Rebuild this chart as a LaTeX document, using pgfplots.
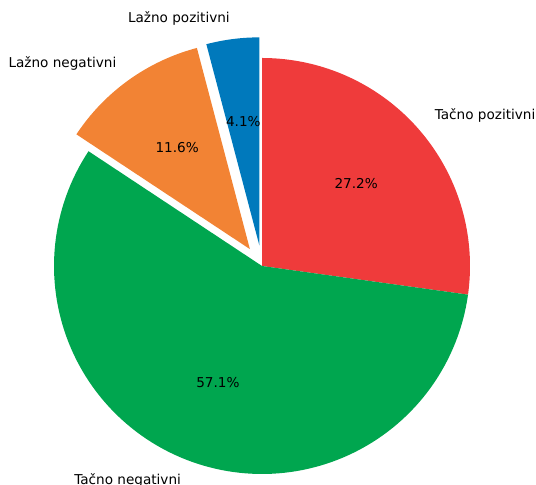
\documentclass[border=0pt]{standalone}
\usepackage{fontspec}
\setmainfont{DejaVu Sans}
\usepackage{pgfplots}
\pgfplotsset{compat=1.18}
\definecolor{cRed}{HTML}{EF3B3B}
\definecolor{cGreen}{HTML}{00A64F}
\definecolor{cOrange}{HTML}{F28334}
\definecolor{cBlue}{HTML}{0079BC}
% shares (percent), clockwise from 90 degrees
\def\pA{27.2}\def\pB{57.1}\def\pC{11.6}\def\pD{4.1}
\begin{document}
\begin{tikzpicture}[font=\fontsize{13.6pt}{16pt}\selectfont]
\pgfmathsetmacro\aA{90}
\pgfmathsetmacro\aB{\aA-3.6*\pA}
\pgfmathsetmacro\aC{\aB-3.6*\pB}
\pgfmathsetmacro\aD{\aC-3.6*\pC}
\pgfmathsetmacro\aE{\aD-3.6*\pD}
% explode offsets
\pgfmathsetmacro\mC{(\aC+\aD)/2}
\pgfmathsetmacro\mD{(\aD+\aE)/2}
\pgfmathsetmacro\cCx{0.1*cos(\mC)}\pgfmathsetmacro\cCy{0.1*sin(\mC)}
\pgfmathsetmacro\cDx{0.1*cos(\mD)}\pgfmathsetmacro\cDy{0.1*sin(\mD)}
\pgfmathsetmacro\mA{(\aA+\aB)/2}
\pgfmathsetmacro\mB{(\aB+\aC)/2}
\begin{axis}[hide axis, x=208pt, y=208pt, scale only axis,
  xmin=-1.2596, xmax=1.3173, ymin=-1.0529, ymax=1.2788, clip=false]
\addplot[fill=cRed, draw=none, domain=\aB:\aA, samples=80, variable=\t]
  ({cos(\t)},{sin(\t)}) -- (axis cs:0,0) -- cycle;
\addplot[fill=cGreen, draw=none, domain=\aC:\aB, samples=120, variable=\t]
  ({cos(\t)},{sin(\t)}) -- (axis cs:0,0) -- cycle;
\addplot[fill=cOrange, draw=none, domain=\aD:\aC, samples=40, variable=\t]
  ({\cCx+cos(\t)},{\cCy+sin(\t)}) -- (axis cs:\cCx,\cCy) -- cycle;
\addplot[fill=cBlue, draw=none, domain=\aE:\aD, samples=20, variable=\t]
  ({\cDx+cos(\t)},{\cDy+sin(\t)}) -- (axis cs:\cDx,\cDy) -- cycle;
% labels
\node[anchor=west, inner sep=0pt] at (axis cs:{1.1*cos(\mA)},{1.1*sin(\mA)}) {Tačno pozitivni};
\node[anchor=east, inner sep=0pt] at (axis cs:{1.1*cos(\mB)},{1.1*sin(\mB)}) {Tačno negativni};
\node[anchor=east, inner sep=0pt] at (axis cs:{\cCx+1.1*cos(\mC)},{\cCy+1.1*sin(\mC)}) {Lažno negativni};
\node[anchor=east, inner sep=0pt] at (axis cs:{\cDx+1.1*cos(\mD)},{\cDy+1.1*sin(\mD)}) {Lažno pozitivni};
\node[inner sep=0pt] at (axis cs:{0.6*cos(\mA)},{0.6*sin(\mA)}) {27.2\%};
\node[inner sep=0pt] at (axis cs:{0.6*cos(\mB)},{0.6*sin(\mB)}) {57.1\%};
\node[inner sep=0pt] at (axis cs:{\cCx+0.6*cos(\mC)},{\cCy+0.6*sin(\mC)}) {11.6\%};
\node[inner sep=0pt] at (axis cs:{\cDx+0.6*cos(\mD)},{\cDy+0.6*sin(\mD)}) {4.1\%};
\end{axis}
\pgfresetboundingbox
\path (current axis.south west) rectangle (current axis.north east);
\end{tikzpicture}
\end{document}
